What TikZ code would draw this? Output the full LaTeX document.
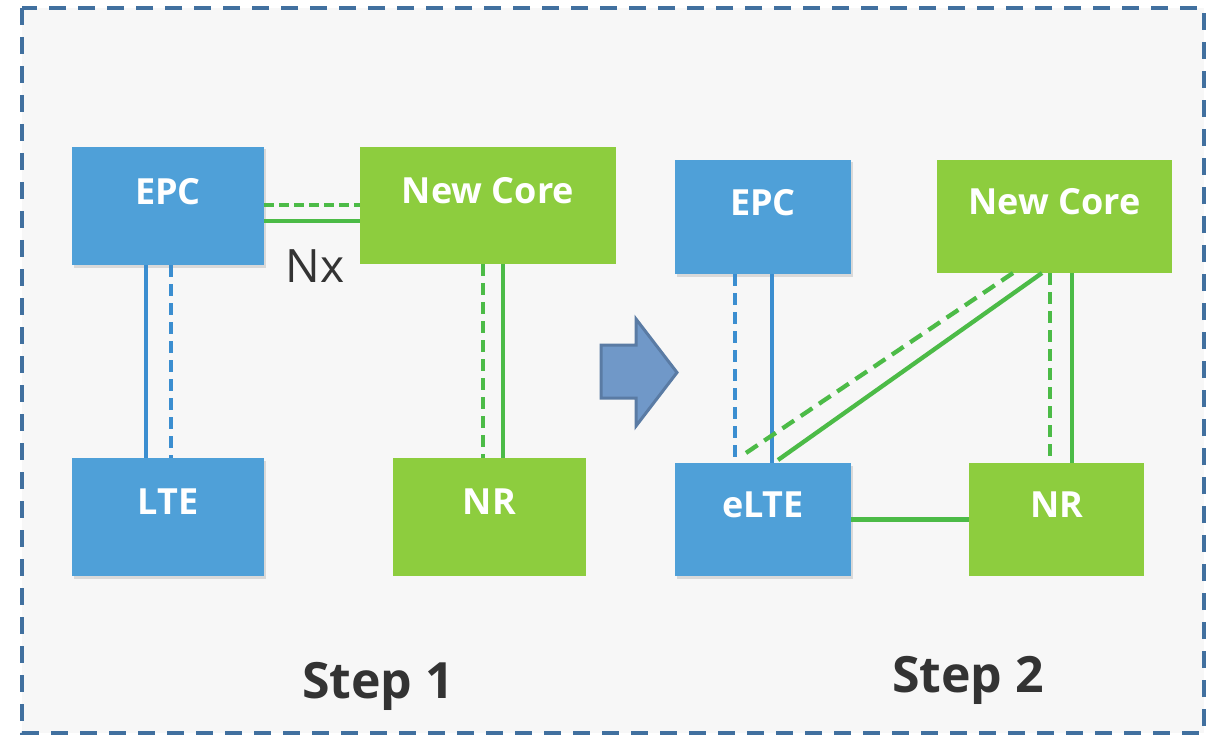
\documentclass[tikz,border=0pt]{standalone}
\usepackage{fontspec}
\setmainfont{Open Sans}
\usetikzlibrary{calc}
\usetikzlibrary{shadows}

\definecolor{boxblue}{RGB}{79,160,216}
\definecolor{boxgreen}{RGB}{141,205,62}
\definecolor{lineblue}{RGB}{59,142,208}
\definecolor{linegreen}{RGB}{76,187,71}
\definecolor{frameblue}{RGB}{65,112,159}
\definecolor{arrowfill}{RGB}{112,152,200}
\definecolor{arrowdraw}{RGB}{90,123,164}
\definecolor{textgray}{RGB}{51,51,51}
\definecolor{bggray}{RGB}{247,247,247}

\begin{document}
\begin{tikzpicture}[x=1pt,y=-1pt,
    box/.style={inner sep=0pt,outer sep=0pt,text=white,text depth=30pt,
        font=\fontsize{36}{40}\selectfont\bfseries},
    blueln/.style={draw=lineblue,line width=4.3pt},
    greenln/.style={draw=linegreen,line width=4.3pt},
    shortdash/.style={dash pattern=on 10pt off 5pt},
    longdash/.style={dash pattern=on 12pt off 7pt},
    steptext/.style={text=textgray,font=\fontsize{50}{56}\selectfont\bfseries}]
    \useasboundingbox (0,0) rectangle (1206,735);
    %%%%%%%%%%%%%%%%%%%%%%%%%%%%%%%%%%%%%%%% frame
    \fill[bggray] (22,8) rectangle (1204,733);
    \draw[frameblue,line width=3.5pt,dash pattern=on 17pt off 12pt] (22,8) rectangle (1204,733);
    %%%%%%%%%%%%%%%%%%%%%%%%%%%%%%%%%%%%%%%% boxes
    \foreach \nm/\x/\y/\w/\h/\t in {epcA/168/206/192/118/EPC,lte/168/517/192/118/LTE,epcB/763/217/176/114/EPC,elte/763/519.5/176/113/eLTE}
    {
        \node[box,fill=boxblue,minimum width=\w pt,minimum height=\h pt,
            drop shadow={shadow xshift=1.5pt,shadow yshift=-2.5pt,opacity=0.25}] (\nm) at (\x,\y) {\t};
    }
    \foreach \nm/\x/\y/\w/\h/\t in {newA/488/205.5/256/117/New Core,nrA/489.5/517/193/118/NR,newB/1054.5/216.5/235/113/New Core,nrB/1056.5/519.5/175/113/NR}
    {
        \node[box,fill=boxgreen,minimum width=\w pt,minimum height=\h pt] (\nm) at (\x,\y) {\t};
    }
    %%%%%%%%%%%%%%%%%%%%%%%%%%%%%%%%%%%%%%%% step 1
    \draw[greenln,shortdash] ([yshift=1pt]epcA.east) -- ([yshift=1pt]epcA.east -| newA.west);
    \draw[greenln] ([yshift=-15pt]epcA.east) -- ([yshift=-15pt]epcA.east -| newA.west);
    \node[text=textgray,font=\fontsize{46}{50}\selectfont] (nx) at (315,266) {Nx};
    \draw[blueln] ([xshift=-22pt]epcA.south) -- ([xshift=-22pt]lte.north);
    \draw[blueln,longdash] ([xshift=3pt]epcA.south) -- ([xshift=3pt]lte.north);
    \draw[greenln,longdash] ([xshift=-6.5pt]nrA.north |- newA.south) -- ([xshift=-6.5pt]nrA.north);
    \draw[greenln] ([xshift=13.5pt]nrA.north |- newA.south) -- ([xshift=13.5pt]nrA.north);
    %%%%%%%%%%%%%%%%%%%%%%%%%%%%%%%%%%%%%%%% arrow
    \draw[fill=arrowfill,draw=arrowdraw,line width=3pt,line join=miter]
        (601,345) -- (636,345) -- (636,319) -- (677,372.5) -- (636,426) -- (636,398) -- (601,398) -- cycle;
    %%%%%%%%%%%%%%%%%%%%%%%%%%%%%%%%%%%%%%%% step 2
    \draw[blueln,longdash] ([xshift=-28pt]epcB.south) -- ([xshift=-28pt]elte.north);
    \draw[blueln] ([xshift=9pt]epcB.south) -- ([xshift=9pt]elte.north);
    \draw[greenln,dash pattern=on 14pt off 8pt] ([xshift=-41.5pt]newB.south) -- ([xshift=-23pt,yshift=6pt]elte.north);
    \draw[greenln] ([xshift=-12.5pt]newB.south) -- ([xshift=15pt,yshift=3pt]elte.north);
    \draw[greenln,longdash] ([xshift=-6.5pt]nrB.north |- newB.south) -- ([xshift=-6.5pt]nrB.north);
    \draw[greenln] ([xshift=15.5pt]nrB.north |- newB.south) -- ([xshift=15.5pt]nrB.north);
    \draw[greenln] (elte.east) -- (nrB.west);
    %%%%%%%%%%%%%%%%%%%%%%%%%%%%%%%%%%%%%%%% labels
    \node[steptext] (stepA) at (378,686) {Step 1};
    \node[steptext] (stepB) at (968,680) {Step 2};
\end{tikzpicture}
\end{document}
